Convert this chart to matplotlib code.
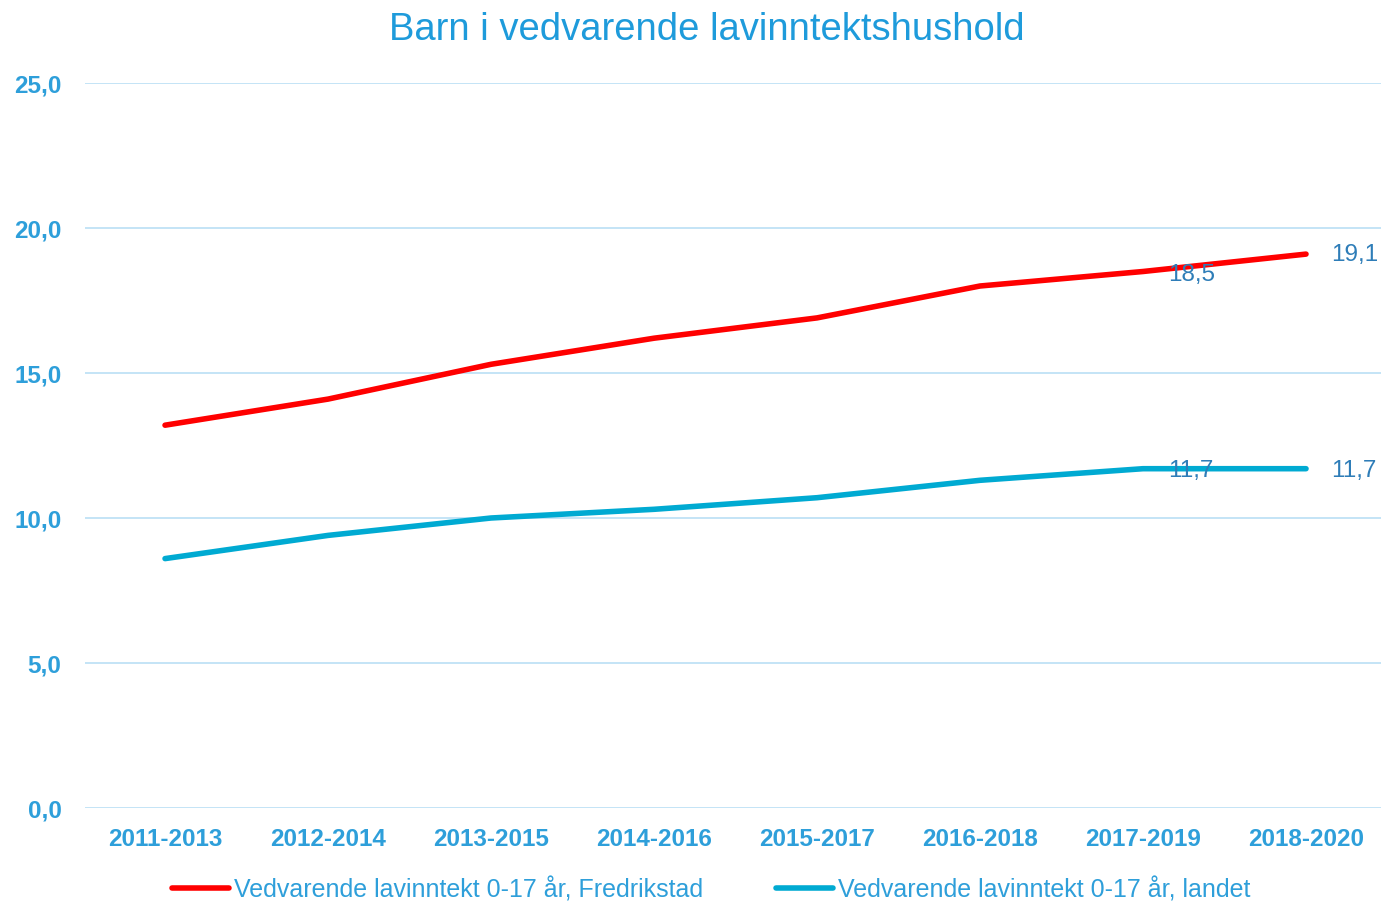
import matplotlib
matplotlib.use("Agg")
import matplotlib.pyplot as plt

categories = ["2011-2013", "2012-2014", "2013-2015", "2014-2016",
              "2015-2017", "2016-2018", "2017-2019", "2018-2020"]
fredrikstad = [13.2, 14.1, 15.3, 16.2, 16.9, 18.0, 18.5, 19.1]
landet = [8.6, 9.4, 10.0, 10.3, 10.7, 11.3, 11.7, 11.7]
series_names = ["Vedvarende lavinntekt 0-17 år, Fredrikstad",
                "Vedvarende lavinntekt 0-17 år, landet"]
yticks = [0, 5, 10, 15, 20, 25]
title = "Barn i vedvarende lavinntektshushold"

plt.rcParams['font.family'] = ['Liberation Sans', 'DejaVu Sans']

fig = plt.figure(figsize=(13.81, 9.04), dpi=100)
ax = fig.add_axes([85/1381, 1-809/904, 1-85/1381, (809-84)/904])

x = list(range(len(categories)))
red = "#FF0000"
blue = "#00AAD2"
ax.plot(x, fredrikstad, color=red, lw=4, solid_capstyle='round', label=series_names[0], zorder=3)
ax.plot(x, landet, color=blue, lw=4, solid_capstyle='round', label=series_names[1], zorder=3)

lab_col = "#2E7DB8"
for i in (6, 7):
    ax.annotate(f"{fredrikstad[i]:.1f}".replace(".", ","), (x[i], fredrikstad[i]),
                xytext=(18, 0 if i == 7 else -2), textcoords="offset points",
                ha="left", va="center", color=lab_col, fontsize=17.5, zorder=4)
    ax.annotate(f"{landet[i]:.1f}".replace(".", ","), (x[i], landet[i]),
                xytext=(18, -1), textcoords="offset points",
                ha="left", va="center", color=lab_col, fontsize=17.5, zorder=4)

ax.set_xlim(-0.491, 7.46)
ax.set_ylim(0, 25)
ax.set_yticks(yticks)
ax.set_yticklabels([f"{v:.1f}".replace(".", ",") for v in yticks])
ax.set_xticks(x)
ax.set_xticklabels(categories)
tick_col = "#2E9FDA"
ax.tick_params(axis='both', length=0, colors=tick_col, labelsize=17.5)
ax.tick_params(axis='y', pad=17)
ax.tick_params(axis='x', pad=14)
for lbl in ax.get_xticklabels() + ax.get_yticklabels():
    lbl.set_fontweight('bold')
for s in ax.spines.values():
    s.set_visible(False)
ax.grid(axis='y', color="#BFE2F6", lw=1.3)
ax.set_axisbelow(True)

fig.text(0.512, 1-30/904, title, ha='center', va='center', color="#1E9BDB", fontsize=27.5)

leg = fig.legend(loc='center', bbox_to_anchor=(0.515, 1-890/904), ncol=2, frameon=False,
                 fontsize=18, handlelength=2.3, handletextpad=0.2, columnspacing=2.9)
for t in leg.get_texts():
    t.set_color(tick_col)

fig.savefig("out.png", dpi=100)
